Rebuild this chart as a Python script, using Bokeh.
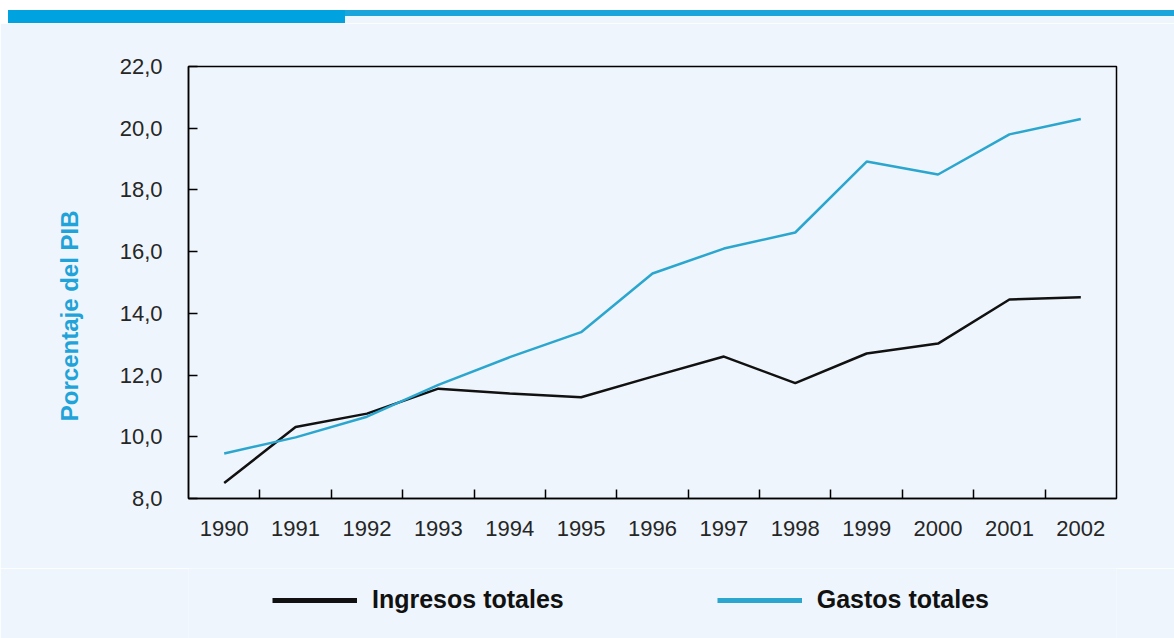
from bokeh.plotting import figure
from bokeh.layouts import column
from bokeh.models import (Range1d, FixedTicker, CustomJSTickFormatter, Legend,
                          LegendItem, Div)
from bokeh.embed import file_html
from bokeh.resources import INLINE

years = [1990, 1991, 1992, 1993, 1994, 1995, 1996, 1997, 1998, 1999, 2000, 2001, 2002]
ingresos = [8.5, 10.32, 10.75, 11.56, 11.4, 11.28, 11.95, 12.6, 11.74, 12.7, 13.02, 14.45, 14.52]
gastos = [9.46, 9.98, 10.65, 11.68, 12.58, 13.39, 15.29, 16.1, 16.62, 18.92, 18.5, 19.8, 20.3]
y_ticks = [8, 10, 12, 14, 16, 18, 20, 22]
series_names = ["Ingresos totales", "Gastos totales"]
y_label = "Porcentaje del PIB"

BG = "#eef5fc"
BLUE = "#2ba6cf"
BLACK = "#111111"
FONT = "Liberation Sans"
W = 1174

# ---- top decorative band (pure decoration, HTML) ----
band_html = (
    '<div style="position:relative;width:1174px;height:23px;background:#ffffff;">'
    '<div style="position:absolute;left:8px;top:10px;width:1166px;height:13px;background:%s;"></div>'
    '<div style="position:absolute;left:8px;top:10px;width:337px;height:13px;background:#00a3e0;"></div>'
    '<div style="position:absolute;left:345px;top:10px;width:829px;height:6px;background:#1aa6dc;"></div>'
    '</div>' % BG
)
top = Div(text=band_html, width=W, height=23, margin=0)

# ---- main chart ----
p = figure(width=W, height=545,
           x_range=Range1d(years[0] - 0.5, years[-1] + 0.5),
           y_range=Range1d(y_ticks[0], y_ticks[-1]),
           output_backend="svg", toolbar_location=None,
           min_border_left=188, min_border_right=58,
           min_border_top=43, min_border_bottom=70,
           background_fill_color=BG, border_fill_color=BG,
           outline_line_color="black", outline_line_width=1.5)
p.xgrid.visible = False
p.ygrid.visible = False

p.line(years, ingresos, line_color=BLACK, line_width=2.5)
p.line(years, gastos, line_color=BLUE, line_width=2.5)

xa = p.xaxis[0]
xa.ticker = FixedTicker(ticks=years, minor_ticks=[y + 0.5 for y in years[:-1]])
xa.major_tick_in = 0
xa.major_tick_out = 0
xa.minor_tick_in = 9
xa.minor_tick_out = 0
xa.minor_tick_line_color = "black"
xa.minor_tick_line_width = 1.5
xa.axis_line_color = "black"
xa.axis_line_width = 1.5
xa.major_label_standoff = 22
xa.major_label_text_font = FONT
xa.major_label_text_font_size = "22px"
xa.major_label_text_color = "#262626"
xa.formatter = CustomJSTickFormatter(code="return String(Math.round(tick));")

ya = p.yaxis[0]
ya.ticker = FixedTicker(ticks=y_ticks)
ya.major_tick_in = 9
ya.major_tick_out = 0
ya.major_tick_line_color = "black"
ya.major_tick_line_width = 1.5
ya.minor_tick_in = 0
ya.minor_tick_out = 0
ya.axis_line_color = "black"
ya.axis_line_width = 1.5
ya.major_label_standoff = 26
ya.major_label_text_font = FONT
ya.major_label_text_font_size = "22px"
ya.major_label_text_color = "#262626"
ya.formatter = CustomJSTickFormatter(code="return tick.toFixed(1).replace('.', ',');")
ya.axis_label = y_label + "\u00a0" * 10
ya.axis_label_text_font = FONT
ya.axis_label_text_font_style = "bold"
ya.axis_label_text_font_size = "24px"
ya.axis_label_text_color = "#1fa3d8"
ya.axis_label_standoff = 34

# ---- legend band (its frame is aligned with the chart frame: x 188..1116) ----
leg = figure(width=W, height=70, x_range=Range1d(0, 1), y_range=Range1d(0, 1),
             x_axis_location=None, y_axis_location=None, min_border=0,
             outline_line_color=None, background_fill_color=BG,
             border_fill_color=BG, output_backend="svg", toolbar_location=None)
leg.grid.visible = False
# single-point renderers: draw nothing, only provide legend swatches
d1 = leg.line(years[:1], ingresos[:1], line_color=BLACK, line_width=5)
d2 = leg.line(years[:1], gastos[:1], line_color=BLUE, line_width=5)
legend = Legend(items=[LegendItem(label=series_names[0], renderers=[d1]),
                       LegendItem(label=series_names[1], renderers=[d2])],
                orientation="horizontal", location=(84, 24),
                glyph_width=85, glyph_height=28, label_standoff=15, spacing=153,
                label_text_font=FONT, label_text_font_style="bold",
                label_text_font_size="25px", label_text_color="#111111",
                background_fill_alpha=0, border_line_alpha=0,
                padding=0, margin=0)
leg.add_layout(legend)

layout = column(top, p, leg, spacing=0)
open("out.html", "w").write(file_html(layout, INLINE))
